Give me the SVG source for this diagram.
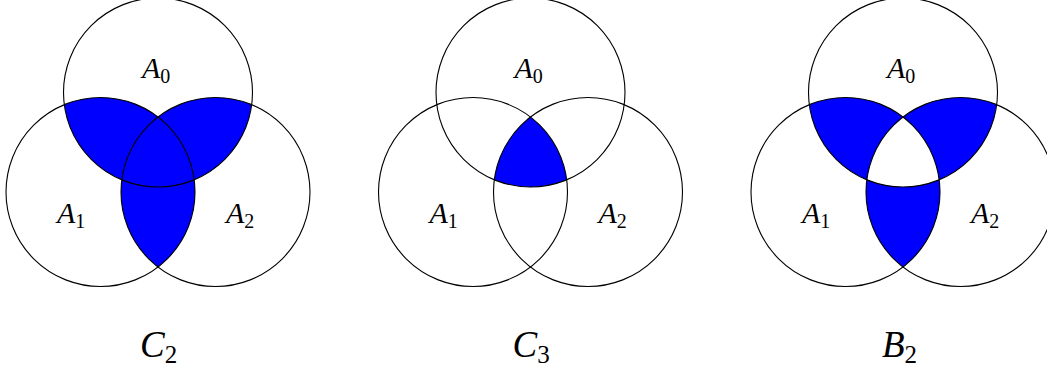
<svg xmlns="http://www.w3.org/2000/svg" width="1047" height="377" viewBox="0 0 1047 377">
<style>
.c{fill:none;stroke:#000;stroke-width:1.1}
.f{fill:#0000ff;stroke:none}
.lbl{font-family:"Liberation Serif",serif;font-style:italic;font-size:30px;fill:#000}
.big{font-family:"Liberation Serif",serif;font-style:italic;font-size:37px;fill:#000}
.sub{font-style:normal}
</style>
<rect width="1047" height="377" fill="#fff"/>
<g id="diagram-C2">
<path class="f" d="M64.3,104.7 A94.5,94.5 0 0 1 158,117 A94.5,94.5 0 0 1 251.7,104.7 A94.5,94.5 0 0 1 194.2,179.8 A94.5,94.5 0 0 1 158,267 A94.5,94.5 0 0 1 121.8,179.8 A94.5,94.5 0 0 1 64.3,104.7 Z"/>
<g id="C2-A0"><circle class="c" cx="158" cy="92.5" r="94.5"/><text class="lbl" x="142" y="78">A<tspan class="sub" font-size="20" dy="5">0</tspan></text></g>
<g id="C2-A1"><circle class="c" cx="100.5" cy="192" r="94.5"/><text class="lbl" x="57" y="223">A<tspan class="sub" font-size="20" dy="5">1</tspan></text></g>
<g id="C2-A2"><circle class="c" cx="215.5" cy="192" r="94.5"/><text class="lbl" x="226" y="223">A<tspan class="sub" font-size="20" dy="5">2</tspan></text></g>
<text id="C2-label" class="big" x="140" y="357">C<tspan class="sub" font-size="25" dy="6">2</tspan></text>
</g>
<g id="diagram-C3">
<path class="f" d="M530.5,117 A94.5,94.5 0 0 1 566.7,179.8 A94.5,94.5 0 0 1 494.3,179.8 A94.5,94.5 0 0 1 530.5,117 Z"/>
<g id="C3-A0"><circle class="c" cx="530.5" cy="92.5" r="94.5"/><text class="lbl" x="514.5" y="78">A<tspan class="sub" font-size="20" dy="5">0</tspan></text></g>
<g id="C3-A1"><circle class="c" cx="473" cy="192" r="94.5"/><text class="lbl" x="429.5" y="223">A<tspan class="sub" font-size="20" dy="5">1</tspan></text></g>
<g id="C3-A2"><circle class="c" cx="588" cy="192" r="94.5"/><text class="lbl" x="598.5" y="223">A<tspan class="sub" font-size="20" dy="5">2</tspan></text></g>
<text id="C3-label" class="big" x="512.5" y="357">C<tspan class="sub" font-size="25" dy="6">3</tspan></text>
</g>
<g id="diagram-B2">
<path class="f" fill-rule="evenodd" d="M809.3,104.7 A94.5,94.5 0 0 1 903,117 A94.5,94.5 0 0 1 996.7,104.7 A94.5,94.5 0 0 1 939.2,179.8 A94.5,94.5 0 0 1 903,267 A94.5,94.5 0 0 1 866.8,179.8 A94.5,94.5 0 0 1 809.3,104.7 Z M903,117 A94.5,94.5 0 0 1 939.2,179.8 A94.5,94.5 0 0 1 866.8,179.8 A94.5,94.5 0 0 1 903,117 Z"/>
<g id="B2-A0"><circle class="c" cx="903" cy="92.5" r="94.5"/><text class="lbl" x="887" y="78">A<tspan class="sub" font-size="20" dy="5">0</tspan></text></g>
<g id="B2-A1"><circle class="c" cx="845.5" cy="192" r="94.5"/><text class="lbl" x="802" y="223">A<tspan class="sub" font-size="20" dy="5">1</tspan></text></g>
<g id="B2-A2"><circle class="c" cx="960.5" cy="192" r="94.5"/><text class="lbl" x="971" y="223">A<tspan class="sub" font-size="20" dy="5">2</tspan></text></g>
<text id="B2-label" class="big" x="882" y="357">B<tspan class="sub" font-size="25" dy="6">2</tspan></text>
</g>
</svg>
